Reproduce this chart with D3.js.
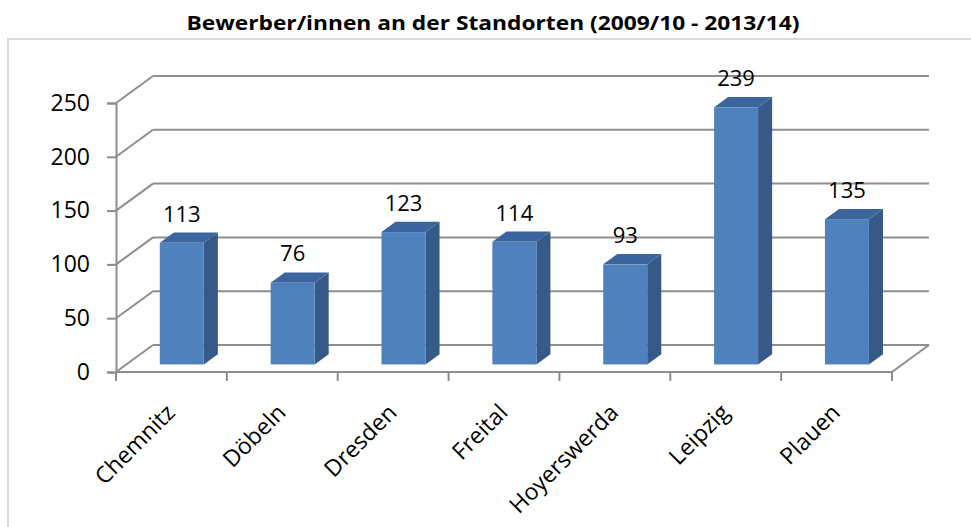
<!DOCTYPE html>
<html>
<head>
<meta charset="utf-8">
<script src="https://cdn.jsdelivr.net/npm/d3@7"></script>
<style>
  body { margin: 0; background: #fff; }
  text { font-family: "Open Sans", sans-serif; fill: #000; }
</style>
</head>
<body>
<div id="chart"></div>
<script>
// data
var categories = ["Chemnitz", "Döbeln", "Dresden", "Freital", "Hoyerswerda", "Leipzig", "Plauen"];
var values = [113, 76, 123, 114, 93, 239, 135];
var yTicks = [0, 50, 100, 150, 200, 250];
var title = "Bewerber/innen an der Standorten (2009/10 - 2013/14)";

var W = 971, H = 527;

var svg = d3.select("#chart")
  .append("svg")
  .attr("width", W)
  .attr("height", H);

svg.append("rect")
  .attr("width", W).attr("height", H)
  .style("fill", "#fff");

// outer frame
svg.append("rect")
  .attr("x", 8).attr("y", 39)
  .attr("width", 1000).attr("height", 600)
  .style("fill", "none")
  .style("stroke", "#d9d9d9")
  .style("stroke-width", "2px");

svg.append("text")
  .text(title)
  .attr("x", 493)
  .attr("y", 30)
  .attr("text-anchor", "middle")
  .attr("textLength", 613)
  .attr("lengthAdjust", "spacingAndGlyphs")
  .style("font-weight", "bold")
  .style("font-size", "20px");

// scales (front plane)
var x = d3.scaleBand().domain(categories).range([116, 892]);
var y = d3.scaleLinear().domain([0, 250]).range([372, 103]);

// depth of the 3d box
var wallDx = 37, wallDy = -27;
var gridColor = "#8e8e8e";

// back wall grid lines
yTicks.forEach(function(t) {
  svg.append("line")
    .attr("x1", 116 + wallDx).attr("x2", 892 + wallDx)
    .attr("y1", y(t) + wallDy).attr("y2", y(t) + wallDy)
    .style("stroke", gridColor)
    .style("stroke-width", "2px");
  // side wall diagonal
  svg.append("line")
    .attr("x1", 116).attr("x2", 116 + wallDx)
    .attr("y1", y(t)).attr("y2", y(t) + wallDy)
    .style("stroke", gridColor)
    .style("stroke-width", "2px");
});

// floor right edge
svg.append("line")
  .attr("x1", 892).attr("x2", 892 + wallDx)
  .attr("y1", y(0)).attr("y2", y(0) + wallDy)
  .style("stroke", gridColor)
  .style("stroke-width", "2px");

// front y axis
var yAxis = svg.append("g")
  .attr("transform", "translate(116,0)")
  .call(d3.axisLeft(y).tickValues(yTicks).tickSize(9).tickPadding(17));
yAxis.select(".domain").style("stroke", gridColor).style("stroke-width", "2px");
yAxis.selectAll(".tick line").style("stroke", gridColor).style("stroke-width", "2px");
yAxis.selectAll(".tick text")
  .style("font-family", "'Open Sans', sans-serif")
  .style("font-size", "23px")
  .style("fill", "#000");

// front x axis line and ticks
svg.append("line")
  .attr("x1", 116).attr("x2", 892)
  .attr("y1", y(0)).attr("y2", y(0))
  .style("stroke", gridColor)
  .style("stroke-width", "2px");

var bounds = categories.map(function(c) { return x(c); }).concat([x(categories[categories.length - 1]) + x.bandwidth()]);
bounds.forEach(function(b) {
  svg.append("line")
    .attr("x1", b).attr("x2", b)
    .attr("y1", y(0)).attr("y2", y(0) + 9)
    .style("stroke", gridColor)
    .style("stroke-width", "2px");
});

// bars
var fFront = 0.28, fDepth = 0.38;
var offX = wallDx * fFront, offY = wallDy * fFront;
var dX = wallDx * fDepth, dY = wallDy * fDepth;
var barW = 44;

categories.forEach(function(c, i) {
  var v = values[i];
  var cx = x(c) + x.bandwidth() / 2 + offX;
  var x0 = cx - barW / 2, x1 = cx + barW / 2;
  var yTop = y(v) + offY, yBot = y(0) + offY;

  svg.append("polygon")
    .attr("points", [[x1, yBot], [x1 + dX, yBot + dY], [x1 + dX, yTop + dY], [x1, yTop]].join(" "))
    .style("fill", "#365a88");
  svg.append("polygon")
    .attr("points", [[x0, yTop], [x0 + dX, yTop + dY], [x1 + dX, yTop + dY], [x1, yTop]].join(" "))
    .style("fill", "#3c65a0");
  svg.append("rect")
    .attr("x", x0).attr("y", yTop)
    .attr("width", barW).attr("height", yBot - yTop)
    .style("fill", "#4f81bd");

  svg.append("text")
    .text(v)
    .attr("x", cx)
    .attr("y", yTop + dY - 11)
    .attr("text-anchor", "middle")
    .style("font-size", "22px");

  svg.append("text")
    .text(c)
    .attr("text-anchor", "end")
    .attr("transform", "translate(" + (x(c) + x.bandwidth() / 2 + 5) + "," + 414 + ") rotate(-45)")
    .style("font-size", "23px");
});
</script>
</body>
</html>
